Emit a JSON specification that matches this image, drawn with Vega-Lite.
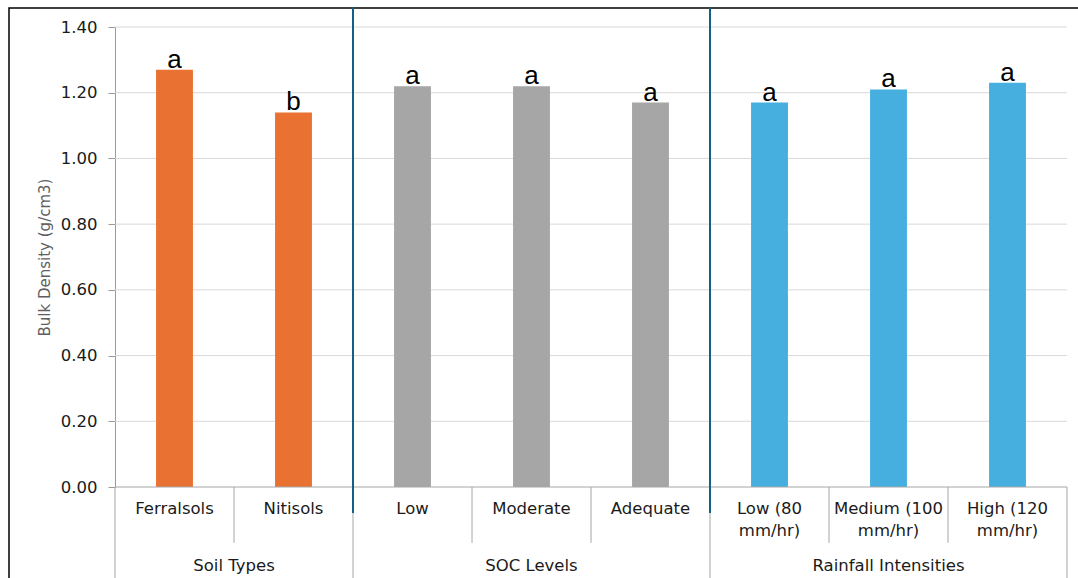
{
  "$schema": "https://vega.github.io/schema/vega-lite/v6.json",
  "width": 1071,
  "height": 572,
  "autosize": {"type": "none"},
  "padding": {"left": 9, "top": 8, "right": 0, "bottom": 0},
  "background": "white",
  "config": {"view": {"stroke": "#000000", "strokeWidth": 1.5}, "font": "DejaVu Sans"},
  "datasets": {
    "bars": [
      {"group": "Soil Types", "cat": "Ferralsols", "label": "Ferralsols", "value": 1.27, "letter": "a"},
      {"group": "Soil Types", "cat": "Nitisols", "label": "Nitisols", "value": 1.14, "letter": "b"},
      {"group": "SOC Levels", "cat": "Low", "label": "Low", "value": 1.22, "letter": "a"},
      {"group": "SOC Levels", "cat": "Moderate", "label": "Moderate", "value": 1.22, "letter": "a"},
      {"group": "SOC Levels", "cat": "Adequate", "label": "Adequate", "value": 1.17, "letter": "a"},
      {"group": "Rainfall Intensities", "cat": "Low (80 mm/hr)", "label": "Low (80\nmm/hr)", "value": 1.17, "letter": "a"},
      {"group": "Rainfall Intensities", "cat": "Medium (100 mm/hr)", "label": "Medium (100\nmm/hr)", "value": 1.21, "letter": "a"},
      {"group": "Rainfall Intensities", "cat": "High (120 mm/hr)", "label": "High (120\nmm/hr)", "value": 1.23, "letter": "a"}
    ],
    "grid": [{"v": 0.2}, {"v": 0.4}, {"v": 0.6}, {"v": 0.8}, {"v": 1.0}, {"v": 1.2}, {"v": 1.4}]
  },
  "data": {"name": "bars"},
  "layer": [
    {
      "data": {"name": "grid"},
      "mark": {"type": "rule", "color": "#D9D9D9", "strokeWidth": 1},
      "encoding": {
        "x": {"datum": 0, "type": "quantitative", "scale": {"domain": [0, 1], "range": [106, 1058], "nice": false, "zero": false}, "axis": null},
        "x2": {"datum": 1},
        "y": {"field": "v", "type": "quantitative", "scale": {"domain": [0, 1.4], "range": [479, 19], "nice": false, "zero": false}, "axis": null}
      }
    },
    {
      "mark": {"type": "bar", "width": {"band": 0.31}},
      "encoding": {
        "x": {"field": "cat", "type": "nominal", "sort": null, "scale": {"type": "band", "domain": ["Ferralsols", "Nitisols", "Low", "Moderate", "Adequate", "Low (80 mm/hr)", "Medium (100 mm/hr)", "High (120 mm/hr)"], "range": [106, 1058], "paddingInner": 0, "paddingOuter": 0}, "axis": null},
        "y": {"field": "value", "type": "quantitative", "scale": {"domain": [0, 1.4], "range": [479, 19], "nice": false, "zero": false},
          "axis": {"values": [0, 0.2, 0.4, 0.6, 0.8, 1.0, 1.2, 1.4], "format": ".2f", "offset": -106, "grid": false, "domainColor": "#9A9A9A", "tickColor": "#9A9A9A", "tickSize": 7, "labelPadding": 11, "labelFont": "DejaVu Sans", "labelFontSize": 16.5, "labelColor": "#1A1A1A", "title": "Bulk Density (g/cm3)", "titleFont": "DejaVu Sans", "titleFontSize": 15, "titleFontWeight": "normal", "titleColor": "#5F5F5F", "titlePadding": 8}},
        "color": {"field": "group", "type": "nominal", "scale": {"domain": ["Soil Types", "SOC Levels", "Rainfall Intensities"], "range": ["#E97132", "#A6A6A6", "#47AFDF"]}, "legend": null}
      }
    },
    {
      "data": {"values": [{"v": 0}]},
      "mark": {"type": "rule", "color": "#A6A6A6", "strokeWidth": 1},
      "encoding": {
        "x": {"datum": 0, "type": "quantitative", "scale": {"domain": [0, 1], "range": [106, 1058], "nice": false, "zero": false}, "axis": null},
        "x2": {"datum": 1},
        "y": {"field": "v", "type": "quantitative", "axis": null}
      }
    },
    {
      "transform": [{"filter": {"field": "cat", "oneOf": ["Nitisols", "Moderate", "Adequate", "Medium (100 mm/hr)", "High (120 mm/hr)"]}}],
      "mark": {"type": "rule", "color": "#A6A6A6", "strokeWidth": 1},
      "encoding": {
        "x": {"field": "cat", "type": "nominal", "bandPosition": 0, "scale": {"type": "band", "domain": ["Ferralsols", "Nitisols", "Low", "Moderate", "Adequate", "Low (80 mm/hr)", "Medium (100 mm/hr)", "High (120 mm/hr)"], "range": [106, 1058], "paddingInner": 0, "paddingOuter": 0}, "axis": null},
        "y": {"datum": 0, "type": "quantitative", "axis": null},
        "y2": {"datum": -0.17}
      }
    },
    {
      "transform": [{"filter": {"field": "cat", "oneOf": ["Ferralsols", "Low", "Low (80 mm/hr)"]}}],
      "mark": {"type": "rule", "color": "#A6A6A6", "strokeWidth": 1},
      "encoding": {
        "x": {"field": "cat", "type": "nominal", "bandPosition": 0, "scale": {"type": "band", "domain": ["Ferralsols", "Nitisols", "Low", "Moderate", "Adequate", "Low (80 mm/hr)", "Medium (100 mm/hr)", "High (120 mm/hr)"], "range": [106, 1058], "paddingInner": 0, "paddingOuter": 0}, "axis": null},
        "y": {"datum": 0, "type": "quantitative", "axis": null},
        "y2": {"datum": -0.3}
      }
    },
    {
      "transform": [{"filter": {"field": "cat", "equal": "High (120 mm/hr)"}}],
      "mark": {"type": "rule", "color": "#A6A6A6", "strokeWidth": 1},
      "encoding": {
        "x": {"field": "cat", "type": "nominal", "bandPosition": 1, "scale": {"type": "band", "domain": ["Ferralsols", "Nitisols", "Low", "Moderate", "Adequate", "Low (80 mm/hr)", "Medium (100 mm/hr)", "High (120 mm/hr)"], "range": [106, 1058], "paddingInner": 0, "paddingOuter": 0}, "axis": null},
        "y": {"datum": 0, "type": "quantitative", "axis": null},
        "y2": {"datum": -0.3}
      }
    },
    {
      "transform": [{"filter": {"field": "cat", "oneOf": ["Low", "Low (80 mm/hr)"]}}],
      "mark": {"type": "rule", "color": "#156082", "strokeWidth": 2},
      "encoding": {
        "x": {"field": "cat", "type": "nominal", "bandPosition": 0, "scale": {"type": "band", "domain": ["Ferralsols", "Nitisols", "Low", "Moderate", "Adequate", "Low (80 mm/hr)", "Medium (100 mm/hr)", "High (120 mm/hr)"], "range": [106, 1058], "paddingInner": 0, "paddingOuter": 0}, "axis": null},
        "y": {"datum": 1.46, "type": "quantitative", "axis": null},
        "y2": {"datum": -0.079}
      }
    },
    {
      "mark": {"type": "text", "baseline": "alphabetic", "fontSize": 26, "dy": -2, "font": "Liberation Sans", "color": "#000000"},
      "encoding": {
        "x": {"field": "cat", "type": "nominal", "scale": {"type": "band", "domain": ["Ferralsols", "Nitisols", "Low", "Moderate", "Adequate", "Low (80 mm/hr)", "Medium (100 mm/hr)", "High (120 mm/hr)"], "range": [106, 1058], "paddingInner": 0, "paddingOuter": 0}, "axis": null},
        "y": {"field": "value", "type": "quantitative", "axis": null},
        "text": {"field": "letter"}
      }
    },
    {
      "mark": {"type": "text", "baseline": "top", "fontSize": 16.5, "lineBreak": "\n", "lineHeight": 22, "color": "#1A1A1A"},
      "encoding": {
        "x": {"field": "cat", "type": "nominal", "scale": {"type": "band", "domain": ["Ferralsols", "Nitisols", "Low", "Moderate", "Adequate", "Low (80 mm/hr)", "Medium (100 mm/hr)", "High (120 mm/hr)"], "range": [106, 1058], "paddingInner": 0, "paddingOuter": 0}, "axis": null},
        "y": {"datum": -0.044, "type": "quantitative", "axis": null},
        "text": {"field": "label"}
      }
    },
    {
      "transform": [{"filter": {"field": "cat", "equal": "Nitisols"}}],
      "mark": {"type": "text", "baseline": "middle", "fontSize": 16.5, "color": "#1A1A1A"},
      "encoding": {
        "x": {"field": "cat", "type": "nominal", "bandPosition": 0, "scale": {"type": "band", "domain": ["Ferralsols", "Nitisols", "Low", "Moderate", "Adequate", "Low (80 mm/hr)", "Medium (100 mm/hr)", "High (120 mm/hr)"], "range": [106, 1058], "paddingInner": 0, "paddingOuter": 0}, "axis": null},
        "y": {"datum": -0.24, "type": "quantitative", "axis": null},
        "text": {"field": "group"}
      }
    },
    {
      "transform": [{"filter": {"field": "cat", "oneOf": ["Moderate", "Medium (100 mm/hr)"]}}],
      "mark": {"type": "text", "baseline": "middle", "fontSize": 16.5, "color": "#1A1A1A"},
      "encoding": {
        "x": {"field": "cat", "type": "nominal", "scale": {"type": "band", "domain": ["Ferralsols", "Nitisols", "Low", "Moderate", "Adequate", "Low (80 mm/hr)", "Medium (100 mm/hr)", "High (120 mm/hr)"], "range": [106, 1058], "paddingInner": 0, "paddingOuter": 0}, "axis": null},
        "y": {"datum": -0.24, "type": "quantitative", "axis": null},
        "text": {"field": "group"}
      }
    }
  ],
  "resolve": {"scale": {"x": "independent"}, "axis": {"y": "independent"}}
}
